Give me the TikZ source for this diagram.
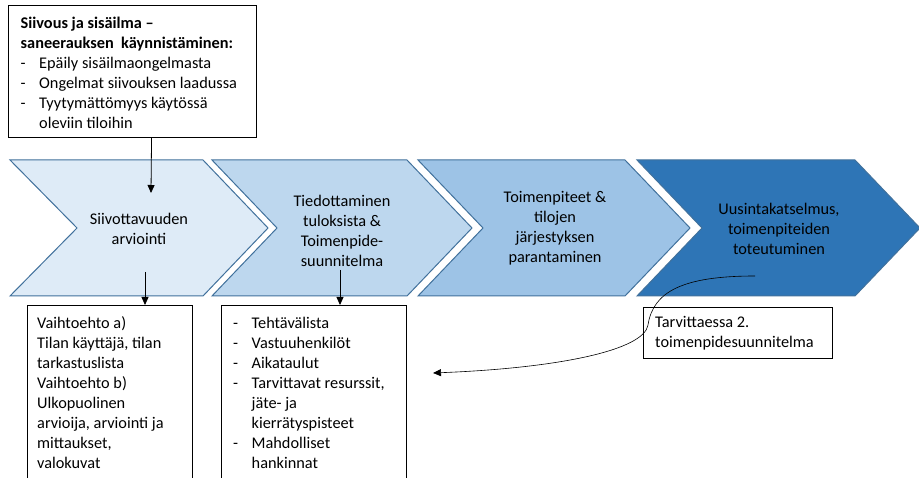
\documentclass[tikz,border=0pt]{standalone}
\usepackage{fontspec}
\setmainfont{Carlito}
\usetikzlibrary{arrows.meta}
\definecolor{cA}{HTML}{DEEBF7}
\definecolor{cB}{HTML}{BDD7EE}
\definecolor{cC}{HTML}{9DC3E6}
\definecolor{cD}{HTML}{2E75B6}
\definecolor{cEdge}{HTML}{41719C}
\newcommand{\mybul}{\makebox[18.5pt][l]{-}}
\newcommand{\myind}{\hspace*{18.5pt}}
\begin{document}
\begin{tikzpicture}[x=1pt,y=-1pt,
  txt/.style={font=\fontsize{16.3}{20}\selectfont, inner sep=0pt, text=black},
  box/.style={draw=black, line width=1.1pt, fill=white, rectangle, inner sep=0pt},
  arr/.style={-{Triangle[length=8pt,width=7pt]}, line width=0.8pt, black},
  chev/.style={draw=cEdge, line width=1pt}]
\clip (0,0) rectangle (919,478);
\fill[white] (0,0) rectangle (919,478);

% chevrons
\draw[chev, fill=cA] (10,160) -- (203,160) -- (268,228) -- (203,296) -- (10,296) -- (77,228) -- cycle;
\draw[chev, fill=cB] (212,160) -- (407,160) -- (472,228) -- (407,296) -- (212,296) -- (277,228) -- cycle;
\draw[chev, fill=cC] (418,160) -- (625,160) -- (690,228) -- (625,296) -- (418,296) -- (483,228) -- cycle;
\draw[chev, fill=cD] (637,160) -- (855,160) -- (920,228) -- (855,296) -- (637,296) -- (702,228) -- cycle;

\node[txt, align=center] (c1) at (139,228.5) {Siivottavuuden\\arviointi};
\node[txt, align=center] (c2) at (342,230.5) {Tiedottaminen\\tuloksista \&\\Toimenpide-\\suunnitelma};
\node[txt, align=center] (c3) at (555,228.5) {Toimenpiteet \&\\tilojen\\järjestyksen\\parantaminen};
\node[txt, align=center] (c4) at (779,228.5) {Uusintakatselmus,\\toimenpiteiden\\toteutuminen};

% top box
\node[box, anchor=north west, minimum width=248pt, minimum height=132pt] (top) at (8,5) {};
\node[txt, align=left, anchor=west] (toptxt) at (20.5,72.5)
  {\textbf{Siivous ja sisäilma –}\\
   \textbf{saneerauksen\ \ käynnistäminen:}\\
   \mybul Epäily sisäilmaongelmasta\\
   \mybul Ongelmat siivouksen laadussa\\
   \mybul Tyytymättömyys käytössä\\
   \myind oleviin tiloihin};

% bottom boxes
\node[box, anchor=north west, minimum width=165pt, minimum height=200pt] (boxA) at (27,305) {};
\node[txt, align=left, anchor=west] (atxt) at (37,393)
  {Vaihtoehto a)\\
   Tilan käyttäjä, tilan\\
   tarkastuslista\\
   Vaihtoehto b)\\
   Ulkopuolinen\\
   arvioija, arviointi ja\\
   mittaukset,\\
   valokuvat};

\node[box, anchor=north west, minimum width=185pt, minimum height=200pt] (boxB) at (221,305) {};
\node[txt, align=left, anchor=west] (btxt) at (233,393)
  {\mybul Tehtävälista\\
   \mybul Vastuuhenkilöt\\
   \mybul Aikataulut\\
   \mybul Tarvittavat resurssit,\\
   \myind jäte- ja\\
   \myind kierrätyspisteet\\
   \mybul Mahdolliset\\
   \myind hankinnat};

\node[box, anchor=north west, minimum width=189pt, minimum height=51pt] (boxC) at (643,307) {};
\node[txt, align=left, anchor=west] (ctxt) at (655,333)
  {Tarvittaessa 2.\\toimenpidesuunnitelma};

% connectors
\coordinate (a1e) at (151,193);
\draw[arr] ([xshift=19pt]top.south) -- (a1e);
\coordinate (s2) at (145,272);
\draw[arr] (s2) -- (s2 |- boxA.north);
\coordinate (s3) at (340,270);
\draw[arr] (s3) -- (s3 |- boxB.north);
\coordinate (cs) at (755,276);
\coordinate (ce) at (433,373);
\draw[arr, line width=0.6pt] (cs) .. controls (682,276) and (653,292) .. (648,325)
   .. controls (644,350) and (560,368) .. (ce);
\end{tikzpicture}
\end{document}
